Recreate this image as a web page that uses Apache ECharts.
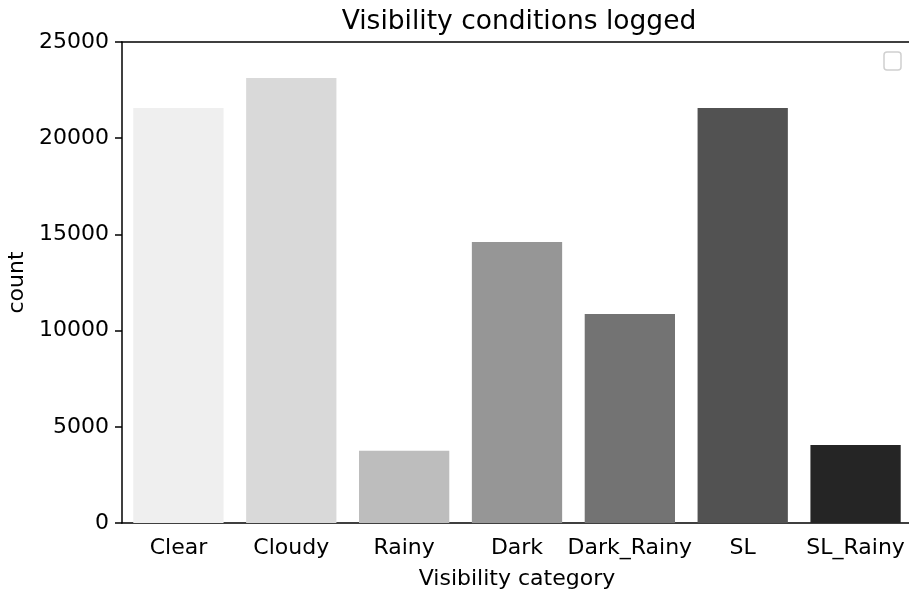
<!DOCTYPE html>
<html>
<head>
<meta charset="utf-8">
<script src="https://cdn.jsdelivr.net/npm/echarts@6/dist/echarts.min.js"></script>
<style>html,body{margin:0;padding:0;background:#fff}#c{width:909px;height:596px}</style>
</head>
<body>
<div id="c"></div>
<script>
const categories = ['Clear', 'Cloudy', 'Rainy', 'Dark', 'Dark_Rainy', 'SL', 'SL_Rainy'];
const counts = [21570, 23130, 3760, 14600, 10860, 21570, 4050];
const barColors = ['#efefef', '#d9d9d9', '#bdbdbd', '#969696', '#737373', '#525252', '#252525'];
const yTicks = [0, 5000, 10000, 15000, 20000, 25000];

const FONT = 'DejaVu Sans';
const chart = echarts.init(document.getElementById('c'), null, {renderer: 'canvas'});
chart.setOption({
  animation: false,
  backgroundColor: '#fff',
  title: {
    text: 'Visibility conditions logged',
    left: 514, top: 4, textAlign: 'center',
    textStyle: {fontFamily: FONT, fontSize: 26.5, fontWeight: 'normal', color: '#000'}
  },
  grid: {left: 122, right: -3, top: 42, bottom: 73, show: false,
    containLabel: false, outerBoundsMode: 'none'},
  xAxis: [{
    type: 'category',
    data: categories,
    name: 'Visibility category',
    nameLocation: 'middle',
    nameGap: 45,
    nameTextStyle: {fontFamily: FONT, fontSize: 22, color: '#000'},
    axisLine: {lineStyle: {color: '#000', width: 1.5}},
    axisTick: {alignWithLabel: true, length: 7, lineStyle: {color: '#000', width: 1.5}},
    axisLabel: {fontFamily: FONT, fontSize: 22, color: '#000', margin: 14, interval: 0, hideOverlap: false},
    splitLine: {show: false}
  }, {
    type: 'category',
    data: categories,
    position: 'top',
    axisLine: {show: true, lineStyle: {color: '#000', width: 1.5}},
    axisTick: {show: false},
    axisLabel: {show: false},
    splitLine: {show: false}
  }],
  yAxis: {
    type: 'value',
    min: 0, max: 25000, interval: 5000,
    name: 'count',
    nameLocation: 'middle',
    nameGap: 92,
    nameTextStyle: {fontFamily: FONT, fontSize: 22, color: '#000'},
    axisLine: {show: true, lineStyle: {color: '#000', width: 1.5}},
    axisTick: {show: true, length: 7, lineStyle: {color: '#000', width: 1.5}},
    axisLabel: {fontFamily: FONT, fontSize: 22, color: '#000', margin: 13,
      formatter: v => yTicks.includes(v) ? String(v) : ''},
    splitLine: {show: false}
  },
  series: [{
    type: 'bar',
    xAxisIndex: 0,
    barWidth: '80%',
    data: counts.map((v, i) => ({value: v, itemStyle: {color: barColors[i]}}))
  }],
  graphic: [{
    type: 'rect',
    shape: {x: 884, y: 52, width: 17, height: 18, r: 3},
    style: {fill: '#fff', stroke: '#d0d0d0', lineWidth: 1.5}
  }]
});
</script>
</body>
</html>
